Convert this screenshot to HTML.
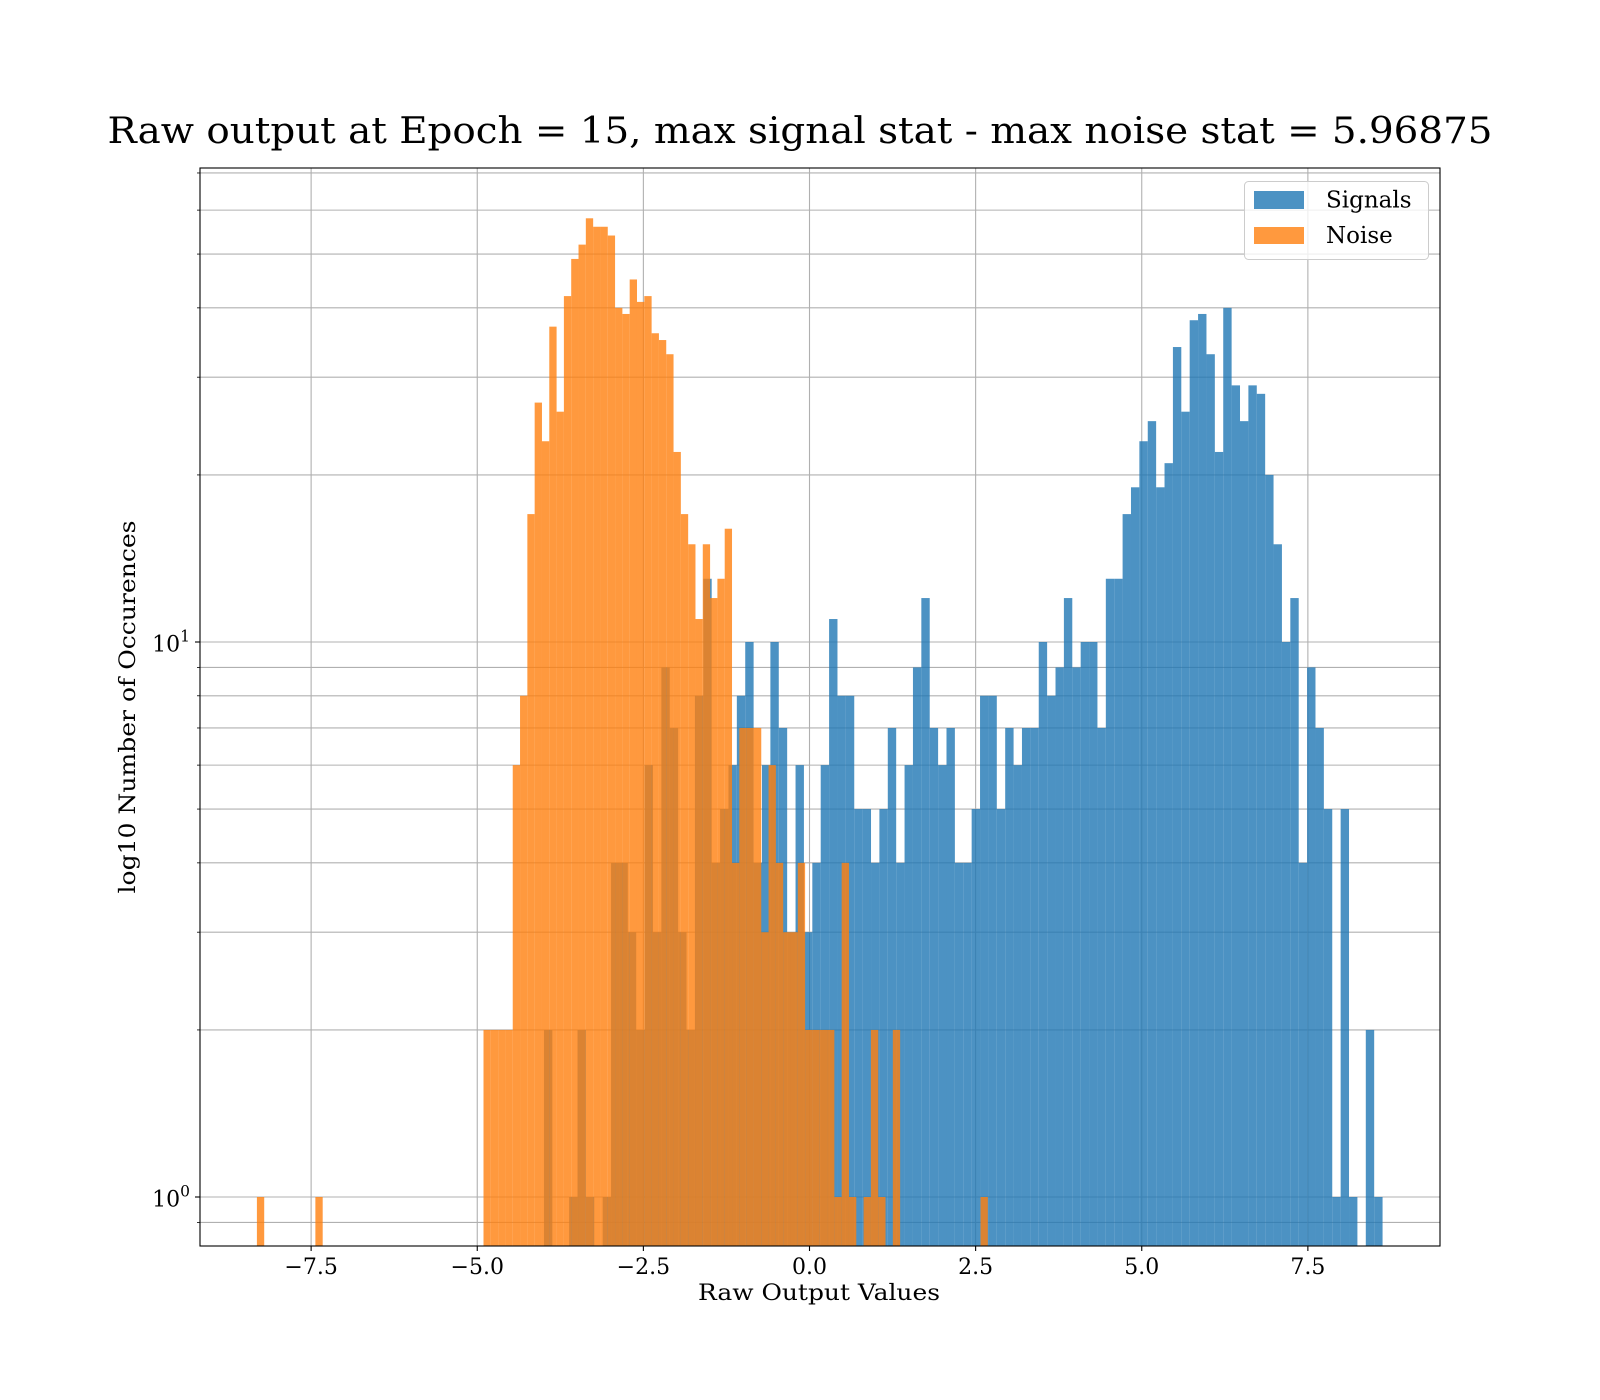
<!DOCTYPE html>
<html><head><meta charset="utf-8"><style>
html,body{margin:0;padding:0;background:#fff;}
svg{display:block;font-family:"DejaVu Serif","Liberation Serif",serif;}
</style></head><body>
<svg id="chart" width="1600" height="1400" viewBox="0 0 1600 1400" xmlns="http://www.w3.org/2000/svg">
<rect x="0" y="0" width="1600" height="1400" fill="#fff"/>
<text x="800" y="143" text-anchor="middle" font-size="36" textLength="1385" lengthAdjust="spacingAndGlyphs" fill="#000">Raw output at Epoch = 15, max signal stat - max noise stat = 5.96875</text>
<g id="grid"></g>
<g id="bars"></g>
<g id="axes"></g>
<text x="819" y="1300" text-anchor="middle" font-size="22" textLength="242" lengthAdjust="spacingAndGlyphs">Raw Output Values</text>
<text x="0" y="0" transform="translate(135,707) rotate(-90)" text-anchor="middle" font-size="22" textLength="373" lengthAdjust="spacingAndGlyphs">log10 Number of Occurences</text>
<g>
<rect x="1244.5" y="181.5" width="184" height="78" rx="4" fill="#fff" fill-opacity="0.8" stroke="#ccc" stroke-width="1"/>
<rect x="1254" y="191" width="50" height="18" fill="#1f77b4" fill-opacity="0.8"/>
<text x="1326" y="207.5" font-size="23">Signals</text>
<rect x="1254" y="227" width="50" height="17" fill="#ff7f0e" fill-opacity="0.8"/>
<text x="1326" y="243" font-size="23">Noise</text>
</g>
</svg>
<script>
const noiseStart = -8.316;
const noiseBinWidth = 0.110;
const noiseCounts = [1,0,0,0,0,0,0,0,1,0, 0,0,0,0,0,0,0,0,0,0, 0,0,0,0,0,0,0,0,0,0, 0,2,2,2,2,6,8,17,27,23, 37,26,42,49,52,58,56,56,54,40, 39,45,41,42,36,35,33,22,17,15, 11,15,12,13,16,4,7,7,7,3, 6,4,3,3,4,2,2,2,2,1, 4,1,0,1,2,1,0,2,0,0, 0,0,0,0,0,0,0,0,0,1];
const signalStart = -3.996;
const signalBinWidth = 0.1262;
const signalCounts = [2,0,0,1,2,1,0,1,4,4, 3,2,6,3,9,7,3,2,8,13, 4,5,6,8,10,4,6,10,7,3, 6,3,4,6,11,8,8,5,5,4, 5,7,4,6,9,12,7,6,7,4, 4,5,8,8,5,7,6,7,7,10, 8,9,12,9,10,10,7,13,13,17, 19,23,25,19,21,34,26,38,39,33, 22,40,29,25,29,28,20,15,10,12, 4,9,7,5,1,5,1,0,2,1];
const xTicks = [-7.5,-5.0,-2.5,0.0,2.5,5.0,7.5];
const xTickLabels = ["\u22127.5","\u22125.0","\u22122.5","0.0","2.5","5.0","7.5"];
const yMajor = [1,10];
const yMajorExp = ["0","1"];
const yMinor = [0.9,2,3,4,5,6,7,8,9,20,30,40,50,60,70];

const NS = "http://www.w3.org/2000/svg";
const L = 200, R = 1440, T = 168, B = 1246;
function xScale(v){ return 809.5 + 66.45 * v; }
function yScale(v){ return 1197 - 555 * Math.log10(v); }
function mk(tag, attrs, parent){
  const e = document.createElementNS(NS, tag);
  for (const k in attrs) e.setAttribute(k, attrs[k]);
  parent.appendChild(e); return e;
}
const grid = document.getElementById('grid');
const bars = document.getElementById('bars');
const axes = document.getElementById('axes');

yMinor.concat(yMajor).forEach(v => {
  const y = yScale(v);
  if (y < T || y > B) return;
  const ln = mk('line', {x1:L, x2:R, y1:y, y2:y, stroke:'#b0b0b0', 'stroke-width':1.1}, grid);
  
  
});
xTicks.forEach(v => {
  const x = xScale(v);
  const ln = mk('line', {x1:x, x2:x, y1:T, y2:B, stroke:'#b0b0b0', 'stroke-width':1.1}, grid);
  
  
});

function drawHist(start, w, counts, color, name){
  counts.forEach((c, i) => {
    if (c <= 0) return;
    const x0 = xScale(start + w * i), x1 = xScale(start + w * (i + 1));
    const yt = Math.max(T, yScale(c));
    const r = mk('rect', {x:x0, y:yt, width:x1 - x0, height:B - yt, fill:color, 'fill-opacity':0.8}, bars);
    
    
  });
}
drawHist(signalStart, signalBinWidth, signalCounts, '#1f77b4', 'signals');
drawHist(noiseStart, noiseBinWidth, noiseCounts, '#ff7f0e', 'noise');

const frame = mk('rect', {x:L, y:T, width:R - L, height:B - T, fill:'none', stroke:'#000', 'stroke-width':1.1}, axes);



xTicks.forEach((v, i) => {
  const x = xScale(v);
  const t = mk('line', {x1:x, x2:x, y1:B, y2:B + 5, stroke:'#000', 'stroke-width':1.1}, axes);
  
  
  const lb = mk('text', {x:x, y:1274, 'text-anchor':'middle', 'font-size':22}, axes);
  lb.textContent = xTickLabels[i];
  
  
});
yMinor.forEach(v => {
  const y = yScale(v);
  if (y < T || y > B) return;
  const t = mk('line', {x1:L - 3, x2:L, y1:y, y2:y, stroke:'#000', 'stroke-width':0.8}, axes);
  
  
});
yMajor.forEach((v, i) => {
  const y = yScale(v);
  const t = mk('line', {x1:L - 5, x2:L, y1:y, y2:y, stroke:'#000', 'stroke-width':1.1}, axes);
  
  
  const lb = mk('text', {x:190, y:y + 9.5, 'text-anchor':'end', 'font-size':22}, axes);
  
  
  lb.appendChild(document.createTextNode('10'));
  const sp = document.createElementNS(NS, 'tspan');
  sp.setAttribute('dy', '-10');
  sp.setAttribute('font-size', '15.5');
  sp.textContent = yMajorExp[i];
  lb.appendChild(sp);
});
</script>
</body></html>
